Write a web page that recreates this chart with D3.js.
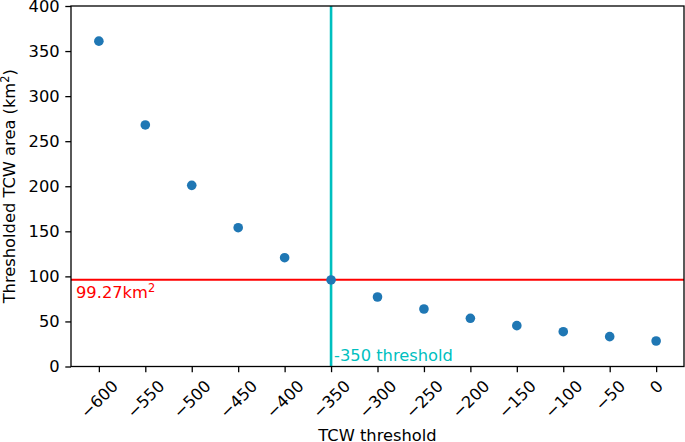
<!DOCTYPE html>
<html><head><meta charset="utf-8">
<script src="https://cdn.jsdelivr.net/npm/d3@7"></script>
<style>body{margin:0;background:#fff}svg{display:block}text{font-family:"DejaVu Sans",sans-serif}</style>
</head><body><svg id="c" width="685" height="442"></svg>
<script>
const thresholds = [-600,-550,-500,-450,-400,-350,-300,-250,-200,-150,-100,-50,0];
const areas = [361,268,201,154,120.7,96,77.1,63.8,53.5,45.3,38.6,33.1,28.3];
const xTicks = [-600,-550,-500,-450,-400,-350,-300,-250,-200,-150,-100,-50,0];
const yTicks = [0,50,100,150,200,250,300,350,400];
const refArea = 96.3;
const refAreaLabel = "99.27";
const refThreshold = -350;

const svg = d3.select("#c");
const m = {l:71, r:684, t:6, b:366.5};
const x = d3.scaleLinear().domain([-630,30]).range([m.l,m.r]);
const y = d3.scaleLinear().domain([0,400]).range([m.b,m.t]);
const fs = 16.3;
const tk = 5.7, pad = 5.7;

// axes
const gy = svg.append("g").attr("transform",`translate(${m.l},0)`)
  .call(d3.axisLeft(y).tickValues(yTicks).tickSize(tk).tickPadding(pad));
gy.select(".domain").remove();
gy.selectAll("text").attr("font-size",fs).attr("fill","#000").style("font-family","DejaVu Sans");
gy.selectAll("line").attr("stroke","#000").attr("stroke-width",1.3);

const gx = svg.append("g").attr("transform",`translate(0,${m.b})`)
  .call(d3.axisBottom(x).tickValues(xTicks).tickSize(tk).tickFormat(d=>d<0?"\u2212"+Math.abs(d):String(d)));
gx.select(".domain").remove();
gx.selectAll("line").attr("stroke","#000").attr("stroke-width",1.3);
gx.selectAll("text").each(function(){
  const t=d3.select(this);
  t.attr("font-size",fs).attr("fill","#000").style("font-family","DejaVu Sans")
   .attr("y",null).attr("dy",null).attr("text-anchor","middle").attr("dominant-baseline","central");
  const w=this.getComputedTextLength(), h=fs*0.95;
  const bh=(w+h)*Math.SQRT1_2;
  const top=tk+pad;
  t.attr("transform",`translate(0,${top+bh/2}) rotate(-45)`);
});

// reference lines
svg.append("line").attr("x1",m.l).attr("x2",m.r).attr("y1",y(refArea)).attr("y2",y(refArea))
  .attr("stroke","#ff0000").attr("stroke-width",2);
svg.append("line").attr("x1",x(refThreshold)).attr("x2",x(refThreshold)).attr("y1",m.t).attr("y2",m.b)
  .attr("stroke","#00bfbf").attr("stroke-width",2.6);

// points
svg.append("g").selectAll("circle").data(thresholds).join("circle")
  .attr("cx",d=>x(d)).attr("cy",(d,i)=>y(areas[i])).attr("r",4.8).attr("fill","#1f77b4");

// annotations
const lab = svg.append("text").attr("x",76).attr("y",298).attr("font-size",fs).attr("fill","#ff0000");
lab.append("tspan").text(refAreaLabel+"km");
lab.append("tspan").attr("dy",-6).attr("font-size",fs*0.7).text("2");
svg.append("text").attr("x",x(refThreshold)+3).attr("y",361).attr("font-size",fs).attr("fill","#00bfbf")
  .text(refThreshold+" threshold");

// frame
svg.append("rect").attr("x",m.l).attr("y",m.t).attr("width",m.r-m.l).attr("height",m.b-m.t)
  .attr("fill","none").attr("stroke","#000").attr("stroke-width",1.3);

// axis labels
svg.append("text").attr("x",(m.l+m.r)/2).attr("y",441).attr("text-anchor","middle").attr("font-size",fs).text("TCW threshold");
const yl = svg.append("text").attr("transform",`translate(14.5,${(m.t+m.b)/2}) rotate(-90)`).attr("text-anchor","middle").attr("font-size",fs);
yl.append("tspan").text("Thresholded TCW area (km");
yl.append("tspan").attr("dy",-6).attr("font-size",fs*0.7).text("2");
yl.append("tspan").attr("dy",6).text(")");
</script></body></html>
